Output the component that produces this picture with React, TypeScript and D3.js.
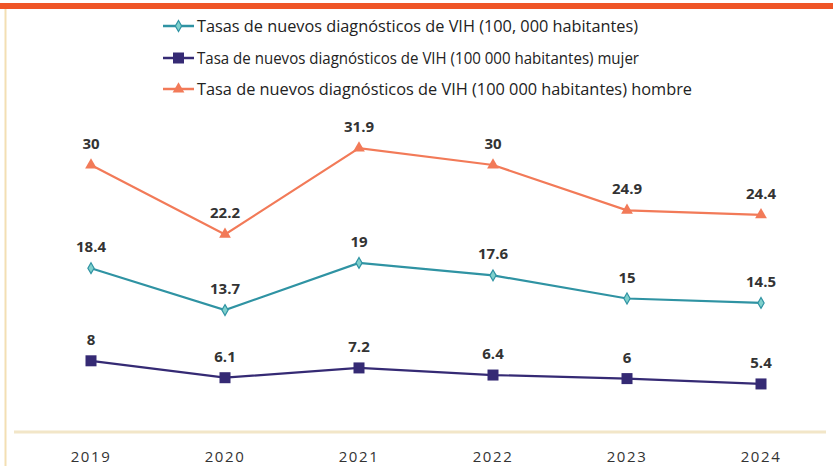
import React from 'react';
import * as d3 from 'd3';

const W = 833, H = 466;
const X0 = 24, X1 = 828;
const Y_BASE = 432, Y_TOP = 76;

const years = ['2019', '2020', '2021', '2022', '2023', '2024'];
const totalRate = [18.4, 13.7, 19, 17.6, 15, 14.5];
const womenRate = [8, 6.1, 7.2, 6.4, 6, 5.4];
const menRate = [30, 22.2, 31.9, 30, 24.9, 24.4];

const seriesNames = [
  'Tasas de nuevos diagnósticos de VIH (100, 000 habitantes)',
  'Tasa de nuevos diagnósticos de VIH (100 000 habitantes) mujer',
  'Tasa de nuevos diagnósticos de VIH (100 000 habitantes) hombre',
];

const TEAL = '#2f93a3';
const NAVY = '#352a74';
const ORANGE = '#f27a58';

const series = [
  { name: seriesNames[0], values: totalRate, color: TEAL, marker: 'diamond' },
  { name: seriesNames[1], values: womenRate, color: NAVY, marker: 'square' },
  { name: seriesNames[2], values: menRate, color: ORANGE, marker: 'triangle' },
];

const x = d3.scaleBand<string>().domain(years).range([X0, X1]);
const y = d3.scaleLinear().domain([0, 40]).range([Y_BASE, Y_TOP]);
const cx = (yr: string) => (x(yr) ?? 0) + x.bandwidth() / 2;

function Marker({ kind, color, px, py }: { kind: string; color: string; px: number; py: number }) {
  if (kind === 'square') {
    return <rect x={px - 5.5} y={py - 5.5} width={11} height={11} fill={color} />;
  }
  if (kind === 'diamond') {
    const p = d3.symbol(d3.symbolDiamond, 34)();
    return <path d={p ?? ''} transform={`translate(${px},${py})`} fill="#7fd0cc" stroke={color} strokeWidth={1.2} />;
  }
  const p = d3.symbol(d3.symbolTriangle, 60)();
  return <path d={p ?? ''} transform={`translate(${px},${py})`} fill={color} />;
}

export default function App() {
  const line = d3.line<number>().x((_, i) => cx(years[i])).y(d => y(d));
  const legendY = [26, 58, 89];
  const legendW = [441, 442, 495];

  return (
    <svg width={W} height={H} style={{ position: 'absolute', left: 0, top: 0, background: '#fff' }}
      fontFamily="'Open Sans', sans-serif">
      <rect x={0} y={3} width={W} height={6} fill="#ef5527" />
      <line x1={5.5} x2={5.5} y1={9} y2={H} stroke="#f3dfb3" strokeWidth={2} />

      {/* baseline */}
      <line x1={14} x2={826} y1={Y_BASE} y2={Y_BASE} stroke="#f2e6c8" strokeWidth={3} />
      {years.map(yr => (
        <text key={yr} x={cx(yr)} y={462} textAnchor="middle" fontSize={15} fill="#333"
          fontFamily="'Open Sans', sans-serif" letterSpacing={1.6}>{yr}</text>
      ))}

      {series.map(s => (
        <g key={s.name}>
          <path d={line(s.values) ?? ''} fill="none" stroke={s.color} strokeWidth={2.2} />
          {s.values.map((v, i) => (
            <Marker key={i} kind={s.marker} color={s.color} px={cx(years[i])} py={y(v)} />
          ))}
          {s.values.map((v, i) => (
            <text key={'l' + i} x={cx(years[i])} y={y(v) - 16} textAnchor="middle" fontSize={15}
              fontWeight="bold" fill="#333">{v}</text>
          ))}
        </g>
      ))}

      {/* legend */}
      {series.map((s, i) => (
        <g key={'lg' + i}>
          <line x1={163} x2={194} y1={legendY[i]} y2={legendY[i]} stroke={s.color} strokeWidth={2.5} />
          <Marker kind={s.marker} color={s.color} px={178.5} py={legendY[i]} />
          <text x={197} y={legendY[i] + 5.5} fontSize={16.5} fill="#222" textLength={legendW[i]}
            lengthAdjust="spacingAndGlyphs">{s.name}</text>
        </g>
      ))}
    </svg>
  );
}
